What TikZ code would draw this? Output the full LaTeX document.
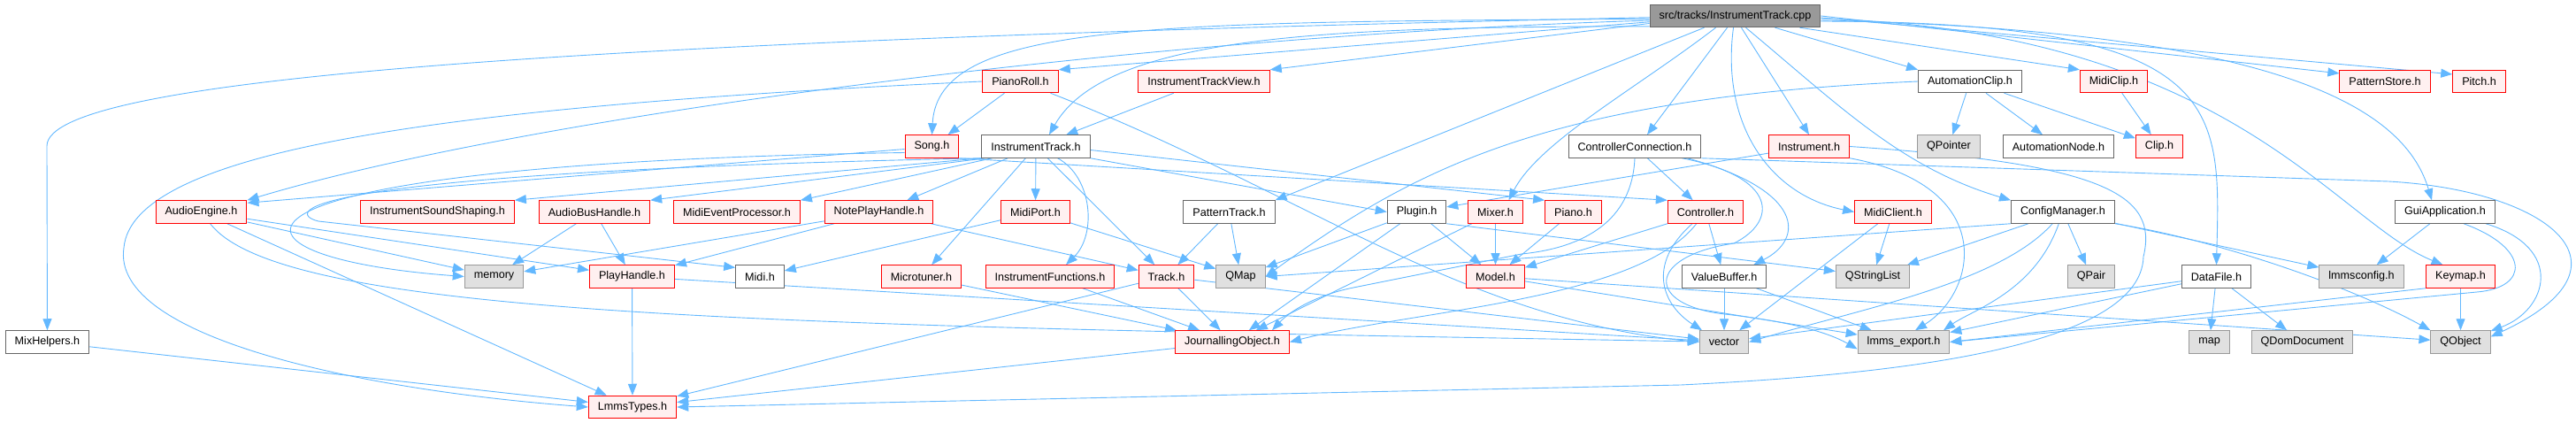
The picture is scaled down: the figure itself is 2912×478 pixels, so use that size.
\documentclass[tikz,border=0pt]{standalone}
\usepackage{fontspec}
\setmainfont{Liberation Sans}
\usepackage{xcolor}
\usetikzlibrary{arrows.meta, backgrounds}

\definecolor{edgeblue}{HTML}{63B8FF}
\definecolor{truncborder}{HTML}{FF0000}
\definecolor{truncfill}{HTML}{FFF0F0}
\definecolor{extborder}{HTML}{999999}
\definecolor{extfill}{HTML}{E0E0E0}
\definecolor{plainborder}{HTML}{666666}
\definecolor{srcfill}{HTML}{999999}

\begin{document}
\begin{tikzpicture}[x=1pt, y=-1pt,
    header/.style={draw=plainborder, line width=1pt, fill=white, minimum height=25.5pt, inner xsep=10.5pt, inner ysep=1pt, font=\fontsize{12.6}{15}\selectfont},
    trunc/.style={header, draw=truncborder, fill=truncfill},
    ext/.style={header, draw=extborder, fill=extfill},
    srcfile/.style={header, draw=plainborder, fill=srcfill},
    incl/.style={-{Triangle[length=13pt, width=10pt]}, draw=edgeblue, line width=0.9pt}
]
    \useasboundingbox (0,0) rectangle (2912,478);

    % Files
    \node[srcfile] (cpp) at (1961.5,18) {src/tracks/InstrumentTrack.cpp};

    \node[trunc] (pianoroll) at (1153.5,92) {PianoRoll.h};
    \node[trunc] (itview) at (1361,92) {InstrumentTrackView.h};
    \node[header] (autoclip) at (2227,92) {AutomationClip.h};
    \node[trunc] (midiclip) at (2389.5,92) {MidiClip.h};
    \node[trunc] (pstore) at (2696,92) {PatternStore.h};
    \node[trunc] (pitch) at (2802.5,92) {Pitch.h};

    \node[trunc] (song) at (1053.5,165.5) {Song.h};
    \node[header] (itrack) at (1171,165.5) {InstrumentTrack.h};
    \node[header] (ctrlconn) at (1848,165.5) {ControllerConnection.h};
    \node[trunc] (instr) at (2045,165.5) {Instrument.h};
    \node[ext] (qpointer) at (2203,165.5) {QPointer};
    \node[header] (autonode) at (2327,165.5) {AutomationNode.h};
    \node[trunc] (clip) at (2441,165.5) {Clip.h};

    \node[trunc] (audioeng) at (227.5,239.5) {AudioEngine.h};
    \node[trunc] (soundshap) at (494.5,239.5) {InstrumentSoundShaping.h};
    \node[trunc] (bush) at (672,239.5) {AudioBusHandle.h};
    \node[trunc] (midiev) at (833,239.5) {MidiEventProcessor.h};
    \node[trunc] (noteph) at (993.5,239.5) {NotePlayHandle.h};
    \node[trunc] (midiport) at (1170.5,239.5) {MidiPort.h};
    \node[header] (ptrack) at (1389.5,239.5) {PatternTrack.h};
    \node[header] (plugin) at (1601.5,239.5) {Plugin.h};
    \node[trunc] (mixer) at (1690.5,239.5) {Mixer.h};
    \node[trunc] (piano) at (1778.5,239.5) {Piano.h};
    \node[trunc] (controller) at (1928,239.5) {Controller.h};
    \node[trunc] (midicl) at (2140,239.5) {MidiClient.h};
    \node[header] (config) at (2332,239.5) {ConfigManager.h};
    \node[header] (guiapp) at (2764,239.5) {GuiApplication.h};

    \node[ext] (memory) at (558.5,312.5) {memory};
    \node[trunc] (playh) at (714.5,312.5) {PlayHandle.h};
    \node[header] (midi) at (859,312.5) {Midi.h};
    \node[trunc] (microt) at (1041.5,312.5) {Microtuner.h};
    \node[trunc] (instfn) at (1187,312.5) {InstrumentFunctions.h};
    \node[trunc] (track) at (1318.5,312.5) {Track.h};
    \node[ext] (qmap) at (1402.5,312.5) {QMap};
    \node[trunc] (model) at (1690.5,312.5) {Model.h};
    \node[header] (valbuf) at (1949,312.5) {ValueBuffer.h};
    \node[ext] (qsl) at (2117,312.5) {QStringList};
    \node[ext] (qpair) at (2364,312.5) {QPair};
    \node[header] (datafile) at (2505.5,312.5) {DataFile.h};
    \node[ext] (lmmscfg) at (2669.5,312.5) {lmmsconfig.h};
    \node[trunc] (keymap) at (2781.5,312.5) {Keymap.h};

    \node[header] (mixhelp) at (53.5,386.5) {MixHelpers.h};
    \node[trunc] (jobj) at (1393,386.5) {JournallingObject.h};
    \node[ext] (vector) at (1949,386.5) {vector};
    \node[ext] (lexport) at (2152,386.5) {lmms\_export.h};
    \node[ext] (stdmap) at (2497.5,386.5) {map};
    \node[ext] (qdom) at (2602.5,386.5) {QDomDocument};
    \node[ext] (qobject) at (2781.5,386.5) {QObject};

    \node[trunc] (ltypes) at (715,460) {LmmsTypes.h};

    \begin{scope}[on background layer]
    % Includes of the source file
    \draw[incl] (cpp.181) .. controls (700,45) and (53,85) .. (53,165) -- (mixhelp);
    \draw[incl] (cpp.183) .. controls (1300,40) and (600,130) .. (audioeng.north east);
    \draw[incl] (cpp.184) -- (pianoroll.north east);
    \draw[incl] (cpp.185) -- (itview.north east);
    \draw[incl] (cpp.182) .. controls (1300,25) and (1060,25) .. (song.north);
    \draw[incl] (cpp.187) .. controls (1500,30) and (1250,40) .. ([xshift=15pt]itrack.north);
    \draw[incl] ([xshift=-35pt]cpp.south) -- (ptrack.north east);
    \draw[incl] ([xshift=-22pt]cpp.south) .. controls (1850,100) and (1740,160) .. ([xshift=15pt]mixer.north);
    \draw[incl] ([xshift=-9pt]cpp.south) -- ([xshift=14pt]ctrlconn.north);
    \draw[incl] ([xshift=-2pt]cpp.south) .. controls (1945,140) and (2000,220) .. (midicl.west);
    \draw[incl] ([xshift=7pt]cpp.south) -- (instr.north);
    \draw[incl] ([xshift=12pt]cpp.south) .. controls (2080,120) and (2150,190) .. (config.north west);
    \draw[incl] ([xshift=45pt]cpp.south) -- (autoclip.north west);
    \draw[incl] ([xshift=73pt]cpp.south) -- (midiclip.north west);
    \draw[incl] ([yshift=-6pt]cpp.east) .. controls (2520,25) and (2510,120) .. (datafile.north);
    \draw[incl] ([yshift=-3pt]cpp.east) .. controls (2520,35) and (2640,250) .. ([xshift=-20pt]keymap.north);
    \draw[incl] ([yshift=-5pt]cpp.east) .. controls (2600,35) and (2720,130) .. ([xshift=-15pt]guiapp.north);
    \draw[incl] (cpp.east) -- (pstore.170);
    \draw[incl] ([yshift=-2pt]cpp.east) -- (pitch.165);

    % Includes of the headers
    \draw[incl] (pianoroll) -- (song);
    \draw[incl] (pianoroll.west) .. controls (500,120) and (150,170) .. (140,280) .. controls (125,380) and (400,440) .. (ltypes.west);
    \draw[incl] (pianoroll) .. controls (1470,215) and (1650,360) .. (vector.west);
    \draw[incl] (itview) -- (itrack);
    \draw[incl] (mixhelp) -- (ltypes);
    \draw[incl] ([yshift=-3pt]song.west) -- ([yshift=-3pt]audioeng.north east);
    \draw[incl] ([yshift=-7pt]song.west) .. controls (200,185) and (220,290) .. (memory.west);
    \draw[incl] (song.south east) -- (controller.north west);
    \draw[incl] (itrack.south west) -- (soundshap.north east);
    \draw[incl] ([xshift=5pt]itrack.south west) -- (bush.north east);
    \draw[incl] ([xshift=12pt]itrack.south west) -- (midiev.north east);
    \draw[incl] (itrack) -- (noteph);
    \draw[incl] (itrack.south west) .. controls (330,195) and (320,240) .. (360,250) -- (midi.160);
    \draw[incl] (itrack) -- (midiport);
    \draw[incl] (itrack) -- (microt);
    \draw[incl] (itrack) .. controls (1235,200) and (1240,265) .. ([xshift=18pt]instfn.north);
    \draw[incl] (itrack) -- (track);
    \draw[incl] (itrack.south east) -- (plugin.west);
    \draw[incl] ([yshift=-4pt]itrack.east) -- (piano.north west);
    \draw[incl] (audioeng) -- (memory);
    \draw[incl] (audioeng) -- (playh);
    \draw[incl] (audioeng) -- (ltypes);
    \draw[incl] (audioeng) .. controls (320,360) and (900,368) .. (vector);
    \draw[incl] (bush) -- (memory);
    \draw[incl] (bush) -- (playh);
    \draw[incl] (noteph) -- (memory);
    \draw[incl] (noteph) -- (playh);
    \draw[incl] (noteph) -- (track);
    \draw[incl] (playh) -- (ltypes);
    \draw[incl] (playh) -- (vector);
    \draw[incl] (midiport) -- (midi);
    \draw[incl] (midiport) -- (qmap);
    \draw[incl] (microt) -- (jobj);
    \draw[incl] (instfn) -- (jobj);
    \draw[incl] (track) -- (jobj);
    \draw[incl] (track) -- (ltypes);
    \draw[incl] (track) -- (vector);
    \draw[incl] (ptrack) -- (track);
    \draw[incl] (ptrack) -- (qmap);
    \draw[incl] (plugin) -- (qmap);
    \draw[incl] (plugin) -- (jobj);
    \draw[incl] (plugin) -- (model);
    \draw[incl] (plugin.south east) -- ([yshift=6pt]qsl.west);
    \draw[incl] (mixer) -- (model);
    \draw[incl] (mixer) -- (jobj);
    \draw[incl] (piano) -- (model);
    \draw[incl] (ctrlconn) -- (controller);
    \draw[incl] (ctrlconn.south) .. controls (1845,250) and (1790,280) .. (1720,287) -- (1530,325) .. controls (1490,333) and (1460,350) .. ([xshift=45pt]jobj.north);
    \draw[incl] ([xshift=-16pt]ctrlconn.south east) .. controls (2040,215) and (2040,270) .. ([xshift=-15pt]valbuf.north east);
    \draw[incl] ([xshift=-22pt]ctrlconn.south east) .. controls (2010,200) and (2010,250) .. (1960,275) .. controls (1860,290) and (1860,345) .. (1950,355) .. controls (2010,362) and (2060,372) .. ([yshift=-8pt]lexport.west);
    \draw[incl] (ctrlconn.south east) -- (2700,205) .. controls (2880,215) and (2990,300) .. (qobject.10);
    \draw[incl] (controller) -- (model);
    \draw[incl] (controller) .. controls (1850,340) and (1600,350) .. (jobj.east);
    \draw[incl] ([xshift=-15pt]controller.south) .. controls (1860,300) and (1880,345) .. ([xshift=-25pt]vector.north);
    \draw[incl] (controller) -- (valbuf);
    \draw[incl] (model) -- (lexport);
    \draw[incl] (model) -- (qobject);
    \draw[incl] (jobj) -- (ltypes);
    \draw[incl] (valbuf) -- (vector);
    \draw[incl] (valbuf) -- (lexport);
    \draw[incl] (instr) -- (plugin);
    \draw[incl] (instr.south east) .. controls (2260,210) and (2235,330) .. ([xshift=13pt]lexport.north);
    \draw[incl] (instr.east) .. controls (2380,185) and (2440,220) .. (2423,290) .. controls (2420,400) and (2100,425) .. (1900,435) -- (ltypes.east);
    \draw[incl] (autoclip) -- (qpointer);
    \draw[incl] (autoclip) -- (autonode);
    \draw[incl] (autoclip) -- (clip);
    \draw[incl] (autoclip.west) .. controls (1750,110) and (1600,190) .. (qmap.east);
    \draw[incl] (midiclip) -- (clip);
    \draw[incl] (midicl) -- (vector);
    \draw[incl] (midicl) -- (qsl);
    \draw[incl] (config.south west) -- (qmap.east);
    \draw[incl] (config) -- (qsl);
    \draw[incl] (config) -- (qpair);
    \draw[incl] (config) .. controls (2260,320) and (2100,350) .. (vector.east);
    \draw[incl] (config) .. controls (2300,330) and (2230,350) .. ([xshift=45pt]lexport.north);
    \draw[incl] (config) -- (lmmscfg);
    \draw[incl] (config.south east) .. controls (2500,270) and (2650,320) .. (qobject.north west);
    \draw[incl] (datafile) -- (stdmap);
    \draw[incl] (datafile) -- (qdom);
    \draw[incl] (datafile) -- (lexport);
    \draw[incl] (datafile) -- (vector);
    \draw[incl] (guiapp) -- (lmmscfg);
    \draw[incl] ([xshift=21pt]guiapp.south) .. controls (2860,280) and (2860,325) .. (2800,330) -- (lexport.east);
    \draw[incl] ([xshift=46pt]guiapp.south) .. controls (2900,280) and (2880,350) .. (qobject.20);
    \draw[incl] (keymap) -- (qobject);
    \draw[incl] (keymap.south west) -- (lexport.east);
    \end{scope}
\end{tikzpicture}
\end{document}
